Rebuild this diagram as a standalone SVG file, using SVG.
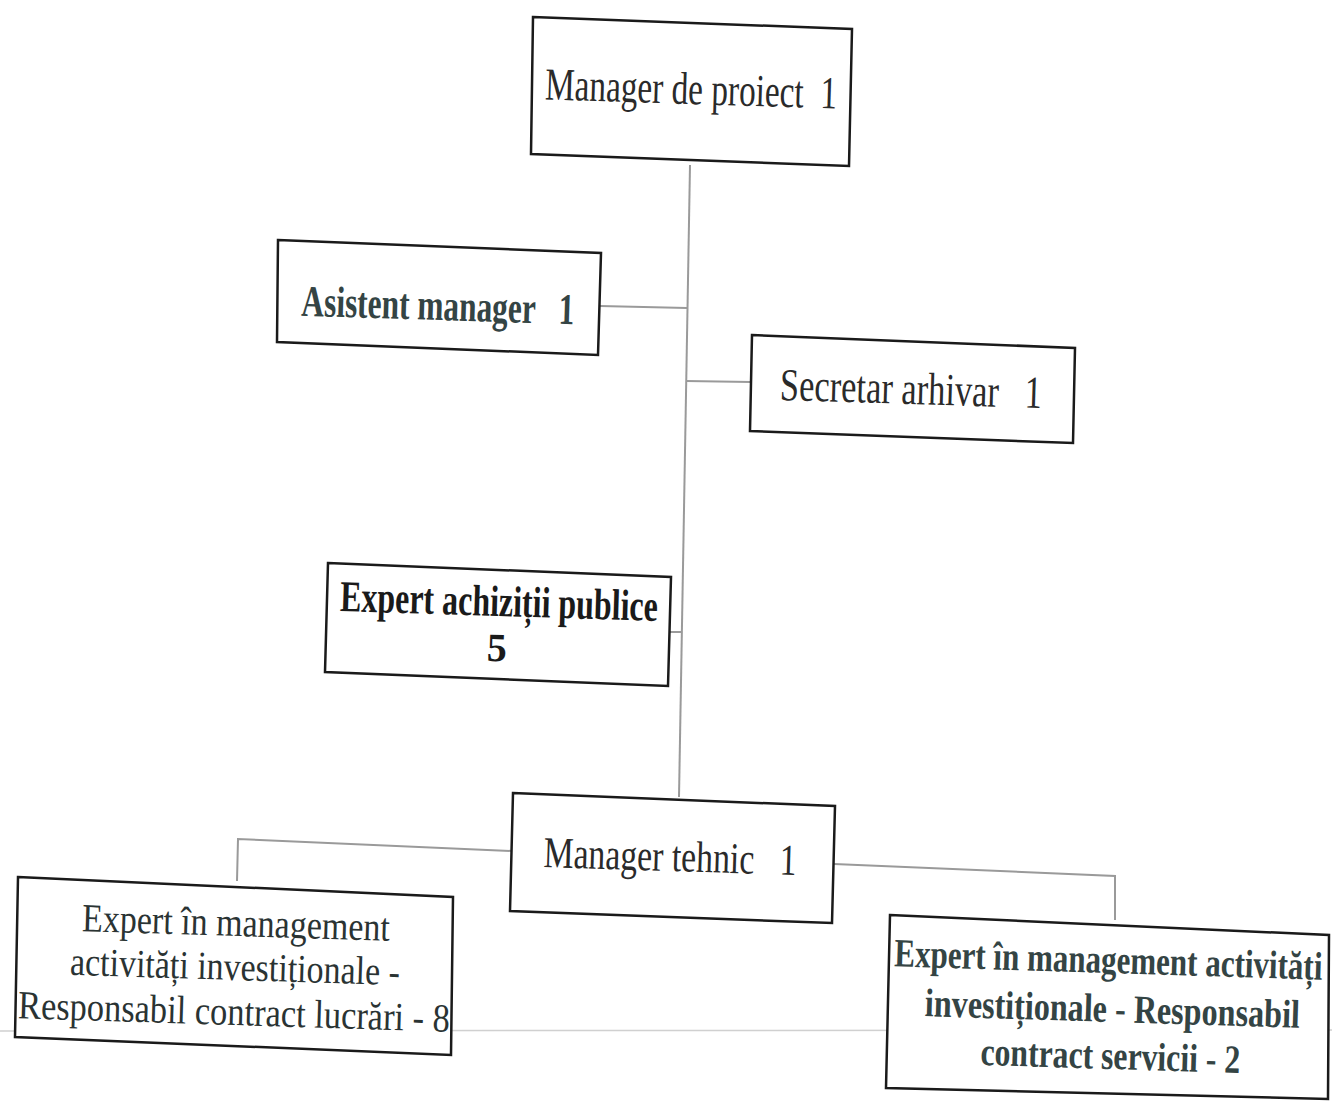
<svg xmlns="http://www.w3.org/2000/svg" width="1332" height="1102" viewBox="0 0 1332 1102">
<style>
.box{fill:#fff;stroke:#1a1a1a;stroke-width:2.5}
.conn{fill:none;stroke:#9a9a9a;stroke-width:2}
text{font-family:"Liberation Serif","Times New Roman",serif;white-space:pre;text-anchor:middle}
.n{fill:#2a2a2a}
.b{font-weight:bold}
.slate{fill:#344444}
</style>
<rect width="1332" height="1102" fill="#fff"/>
<line x1="0" y1="1031" x2="1332" y2="1030" stroke="#d0d0d0" stroke-width="1.5"/>
<g id="connectors">
<path class="conn" d="M690,165 L679,797"/>
<path class="conn" d="M600,306 L687,308"/>
<path class="conn" d="M686,381 L751,382"/>
<path class="conn" d="M670,632 L681,632"/>
<path class="conn" d="M512,851 L238,839 L237,881"/>
<path class="conn" d="M834,864 L1115,876 L1115,920"/>
</g>
<g id="manager-proiect">
<polygon class="box" points="533,17 852,29 849,166 531,154"/>
<text class="n" x="691" y="104" font-size="46" textLength="292" lengthAdjust="spacingAndGlyphs" transform="rotate(1.8 691 92)">Manager de proiect  1</text>
</g>
<g id="asistent-manager">
<polygon class="box" points="278,240 601,253 598,355 277,342"/>
<text class="b slate" x="438" y="320" font-size="44" textLength="273" lengthAdjust="spacingAndGlyphs" transform="rotate(1.8 438 305)">Asistent manager   1</text>
</g>
<g id="secretar-arhivar">
<polygon class="box" points="752,335 1075,348 1073,443 750,431"/>
<text class="n" x="911" y="404" font-size="46" textLength="262" lengthAdjust="spacingAndGlyphs" transform="rotate(1.8 911 390)">Secretar arhivar   1</text>
</g>
<g id="expert-achizitii">
<polygon class="box" points="328,563 671,577 668,686 325,672"/>
<text class="b" fill="#1a1a1a" x="499" y="616" font-size="44" textLength="318" lengthAdjust="spacingAndGlyphs" transform="rotate(1.8 499 602)">Expert achiziții publice</text>
<text class="b" fill="#1a1a1a" x="497" y="661" font-size="40" transform="rotate(1.8 497 648)">5</text>
</g>
<g id="manager-tehnic">
<polygon class="box" points="513,793 835,806 832,923 510,911"/>
<text class="n" x="670" y="871" font-size="44" textLength="253" lengthAdjust="spacingAndGlyphs" transform="rotate(1.8 670 858)">Manager tehnic   1</text>
</g>
<g id="expert-lucrari">
<polygon class="box" points="18,877 453,897 451,1055 15,1037"/>
<text fill="#2a3333" x="236" y="936" font-size="40" textLength="308" lengthAdjust="spacingAndGlyphs" transform="rotate(1.8 236 924)">Expert în management</text>
<text fill="#2a3333" x="235" y="980" font-size="40" textLength="330" lengthAdjust="spacingAndGlyphs" transform="rotate(1.8 235 968)">activități investiționale -</text>
<text fill="#2a3333" x="234" y="1025" font-size="40" textLength="432" lengthAdjust="spacingAndGlyphs" transform="rotate(1.8 234 1013)">Responsabil contract lucrări - 8</text>
</g>
<g id="expert-servicii">
<polygon class="box" points="890,915 1329,935 1328,1099 886,1088"/>
<text class="b slate" x="0" y="0" font-size="40" textLength="549" lengthAdjust="spacingAndGlyphs" transform="translate(1108 973) rotate(1.8) scale(0.78 1)">Expert în management activități</text>
<text class="b slate" x="0" y="0" font-size="40" textLength="481" lengthAdjust="spacingAndGlyphs" transform="translate(1112 1022) rotate(1.8) scale(0.78 1)">investiționale - Responsabil</text>
<text class="b slate" x="0" y="0" font-size="40" textLength="333" lengthAdjust="spacingAndGlyphs" transform="translate(1110 1069) rotate(1.8) scale(0.78 1)">contract servicii - 2</text>
</g>
</svg>
